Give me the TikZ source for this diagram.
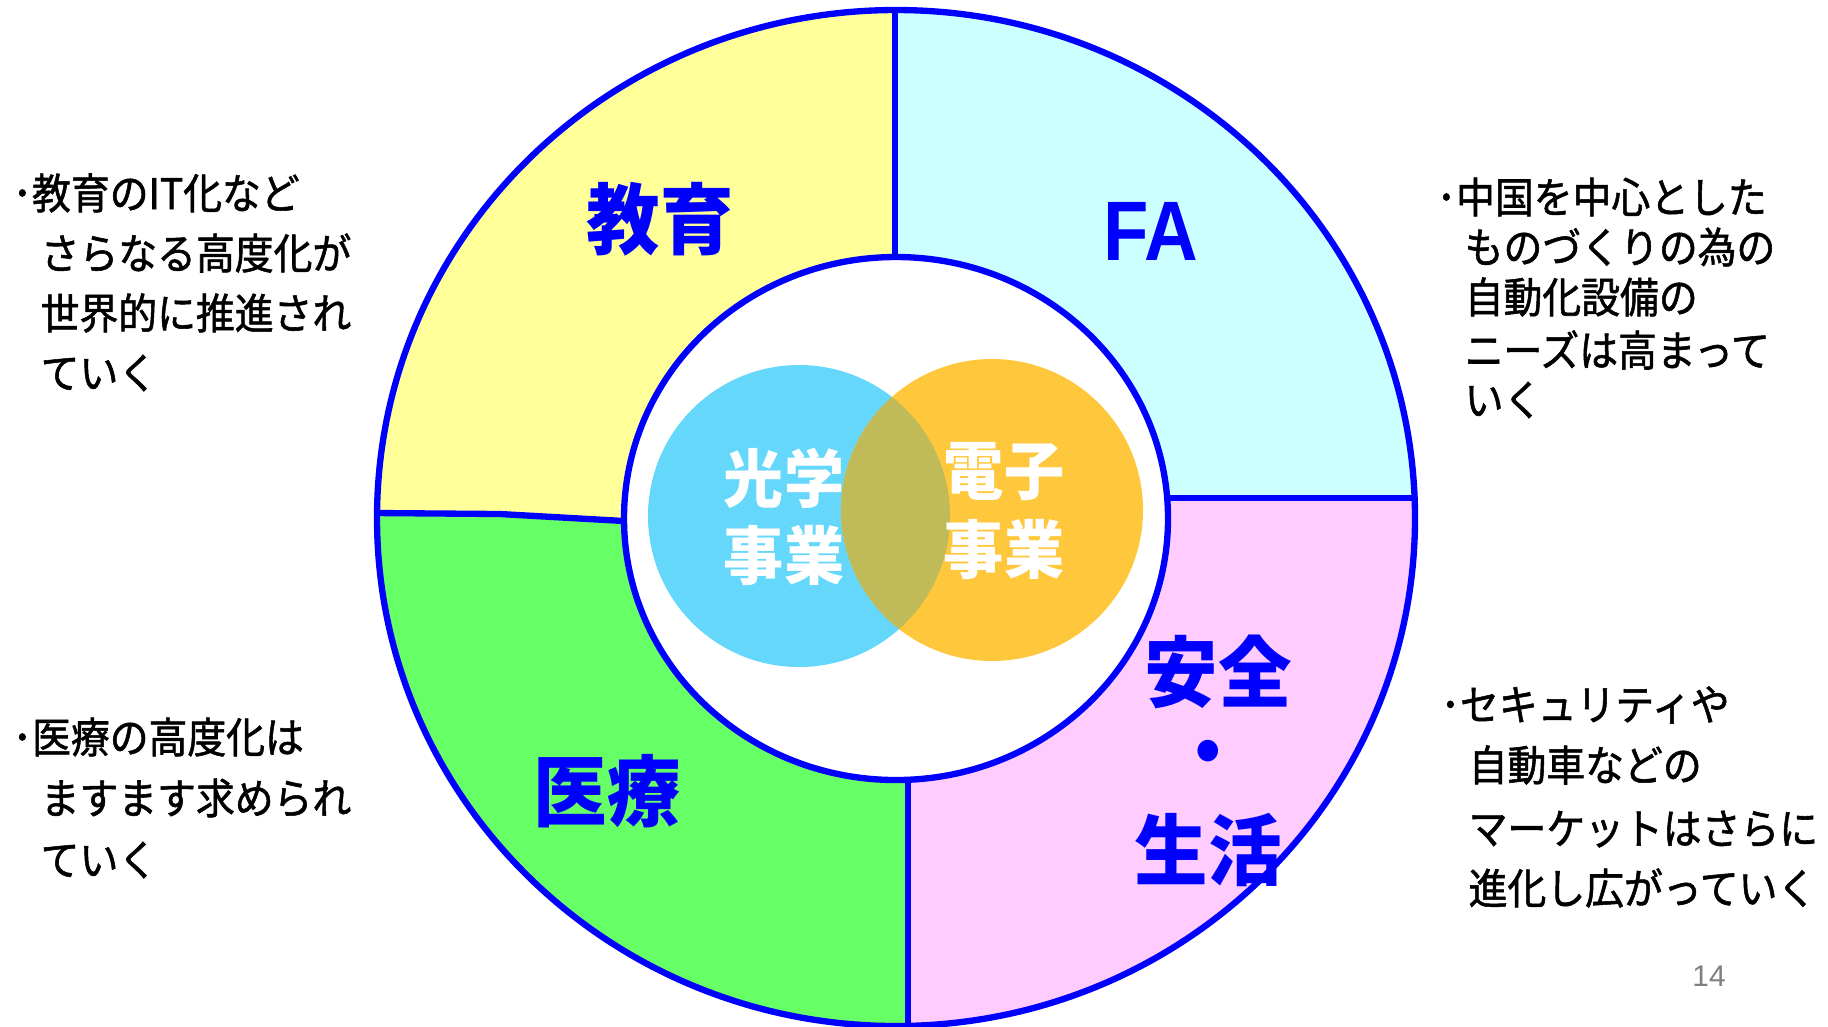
\documentclass[tikz,border=0pt]{standalone}
\usepackage{fontspec}
\newfontfamily\jp[FakeStretch=0.92, FakeBold=1.3]{Noto Sans CJK JP}
\newfontfamily\jpb[FakeStretch=0.95]{Noto Sans CJK JP}
\newfontfamily\lsans{Liberation Sans}
\newfontfamily\lsansn[FakeStretch=0.88]{Liberation Sans}
\definecolor{qyellow}{RGB}{255,255,153}
\definecolor{qcyan}{RGB}{204,255,255}
\definecolor{qgreen}{RGB}{102,255,102}
\definecolor{qpink}{RGB}{255,204,255}
\definecolor{qblue}{RGB}{0,0,255}
\definecolor{vblue}{RGB}{100,215,250}
\definecolor{vorange}{RGB}{255,200,60}
\definecolor{vover}{RGB}{192,186,88}
\definecolor{pgray}{RGB}{128,128,128}
\tikzset{
  ring/.style={draw=qblue, line width=1.8pt},
  body/.style={anchor=west, inner sep=0pt, font=\jp\fontsize{12}{14}\selectfont},
  big/.style={inner sep=0pt, text=qblue, font=\jpb\bfseries\fontsize{22}{26}\selectfont},
  venn/.style={inner sep=0pt, text=white, font=\jpb\bfseries\fontsize{18}{21}\selectfont},
}
\begin{document}
\begin{tikzpicture}[x=0.01cm,y=-0.01cm]
\fill[white] (0,0) rectangle (1828,1026);
\useasboundingbox (0,0) rectangle (1828,1026);
% quadrant fills
\begin{scope}
\clip (-10,-10) -- (895,-10) -- (895,518) -- (625,521) -- (500,514) -- (376,513) -- (-10,513) -- cycle;
\fill[qyellow, even odd rule] (896,518) ellipse [x radius=519, y radius=508] (896,518.5) ellipse [x radius=272, y radius=261.5];
\end{scope}
\begin{scope}
\clip (895,-10) -- (1840,-10) -- (1840,498) -- (895,498) -- cycle;
\fill[qcyan, even odd rule] (896,518) ellipse [x radius=519, y radius=508] (896,518.5) ellipse [x radius=272, y radius=261.5];
\end{scope}
\begin{scope}
\clip (895,498) -- (1840,498) -- (1840,1040) -- (908,1040) -- (908,518) -- cycle;
\fill[qpink, even odd rule] (896,518) ellipse [x radius=519, y radius=508] (896,518.5) ellipse [x radius=272, y radius=261.5];
\end{scope}
\begin{scope}
\clip (-10,513) -- (376,513) -- (500,514) -- (625,521) -- (908,518) -- (908,1040) -- (-10,1040) -- cycle;
\fill[qgreen, even odd rule] (896,518) ellipse [x radius=519, y radius=508] (896,518.5) ellipse [x radius=272, y radius=261.5];
\end{scope}
% outlines
\draw[ring] (896,518) ellipse [x radius=519, y radius=508];
\draw[ring] (896,518.5) ellipse [x radius=272, y radius=261.5];
\draw[ring] (895,10) -- (895,257);
\draw[ring] (1168,498) -- (1414,498);
\draw[ring] (908,780) -- (908,1026);
\draw[ring] (376,513) -- (500,514) -- (624,521);
% Venn circles
\fill[vblue] (799,516) circle [radius=151];
\fill[vorange] (992,510) circle [radius=151];
\begin{scope}
\clip (799,516) circle [radius=151];
\fill[vover] (992,510) circle [radius=151];
\end{scope}
\node[venn] (kogaku) at (784,478) {光学};
\node[venn] (jigyo1) at (784,555) {事業};
\node[venn] (denshi) at (1004,472) {電子};
\node[venn] (jigyo2) at (1004,549) {事業};
% segment labels
\node[big] (kyoiku) at (660,219) {教育};
\node[inner sep=0pt, text=qblue, font=\lsansn\bfseries\fontsize{24}{28}\selectfont] (fa) at (1151,231) {FA};
\node[big] (iryo) at (607,791) {医療};
\node[big] (anzen) at (1218,672) {安全};
\node[big] (dot) at (1208,760) {・};
\node[big] (seikatsu) at (1208,850) {生活};
% left top text
\node[body] (lt1) at (12,193) {･教育のIT化など};
\node[body] (lt2) at (40,253) {さらなる高度化が};
\node[body] (lt3) at (40,313) {世界的に推進され};
\node[body] (lt4) at (40,373) {ていく};
% left bottom text
\node[body] (lb1) at (12,737) {･医療の高度化は};
\node[body] (lb2) at (40,798) {ますます求められ};
\node[body] (lb3) at (40,860) {ていく};
% right top text
\node[body] (rt1) at (1436,197) {･中国を中心とした};
\node[body] (rt2) at (1464,247) {ものづくりの為の};
\node[body] (rt3) at (1464,297) {自動化設備の};
\node[body] (rt4) at (1464,350) {ニーズは高まって};
\node[body] (rt5) at (1464,400) {いく};
% right bottom text
\node[body] (rb1) at (1440,705) {･セキュリティや};
\node[body] (rb2) at (1468,765) {自動車などの};
\node[body] (rb3) at (1468,829) {マーケットはさらに};
\node[body] (rb4) at (1468,888) {進化し広がっていく};
% page number
\node[inner sep=0pt, text=pgray, font=\lsans\fontsize{8.5}{10}\selectfont] (page) at (1709,976) {14};
\end{tikzpicture}
\end{document}
